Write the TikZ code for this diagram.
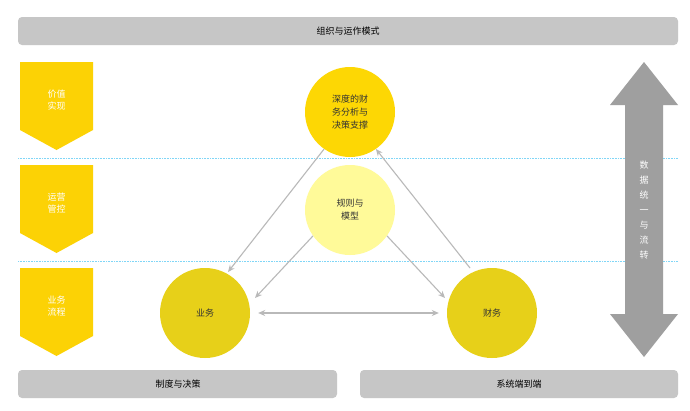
\documentclass[tikz,border=0pt]{standalone}
\usepackage{fontspec}
\setmainfont{Noto Sans CJK SC}
\usetikzlibrary{arrows.meta,shapes.arrows}
\begin{document}
\begin{tikzpicture}[x=1pt,y=-1pt,
  bar/.style={fill=gray!45,rounded corners=4pt,font=\fontsize{9}{11}\selectfont,text=black!80},
  chev/.style={fill=yellow!70!orange,draw=none,text=white,font=\fontsize{9}{12}\selectfont,align=center},
  circ/.style={circle,minimum size=90pt,inner sep=0pt,align=center,font=\fontsize{9}{13}\selectfont,text=black!80},
  conn/.style={draw=gray!55,line width=1.1pt,-{Stealth[length=7pt,width=6pt]}},
  dots/.style={draw=cyan!50,densely dotted,line width=0.6pt}]
\useasboundingbox (0,0) rectangle (690,410);
\fill[white] (0,0) rectangle (690,410);
\path[bar] (18,17) rectangle (678,45);
\node (top) at (348,31) {\fontsize{9}{11}\selectfont 组织与运作模式};
\path[bar] (18,370) rectangle (337,398);
\node (bl) at (178,384) {\fontsize{9}{11}\selectfont 制度与决策};
\path[bar] (360,370) rectangle (678,398);
\node (br) at (519,384) {\fontsize{9}{11}\selectfont 系统端到端};
\draw[dots] (18,158) -- (678,158);
\draw[dots] (18,261) -- (678,261);
\foreach \y/\t in {62/价值\\实现,165/运营\\管控,268/业务\\流程}{
  \fill[yellow!70!orange] (20,\y) -- (93,\y) -- (93,\y+68) -- (56.5,\y+88) -- (20,\y+68) -- cycle;
  \node[chev] at (56.5,\y+38) {\t};
}
\fill[gray!75] (644,62) -- (678,105) -- (663,105) -- (663,314) -- (678,314) -- (644,357) -- (610,314) -- (625,314) -- (625,105) -- (610,105) -- cycle;
\node[text=white,align=center,font=\fontsize{9}{15}\selectfont] (data) at (644,210) {数\\据\\统\\一\\与\\流\\转};
\node[circ,fill=yellow!75!orange] (a) at (350,112) {深度的财\\务分析与\\决策支撑};
\node[circ,fill=yellow!40] (m) at (350,210) {规则与\\模型};
\node[circ,fill=yellow!85!orange!90!black] (l) at (205,313) {业务};
\node[circ,fill=yellow!85!orange!90!black] (r) at (492,313) {财务};
\draw[conn] (a.235) -- (228,272);
\draw[conn] (470,268) -- (a.-55);
\draw[conn,{Stealth[length=7pt,width=6pt]}-{Stealth[length=7pt,width=6pt]}] (l.east)++(8,0) -- ([xshift=-8pt]r.west);
\draw[conn] (m.215) -- (255,298);
\draw[conn] (m.-35) -- (445,298);
\end{tikzpicture}
\end{document}
